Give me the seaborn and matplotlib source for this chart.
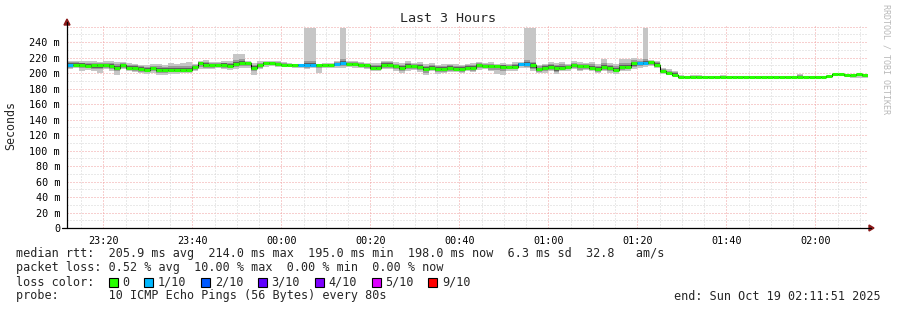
import numpy as np
import pandas as pd
import matplotlib
matplotlib.use("Agg")
import matplotlib.pyplot as plt
import seaborn as sns
from matplotlib.patches import Rectangle, Polygon
from matplotlib.lines import Line2D

# ---------------- data (ms) ----------------
STEP_MIN = 80 / 60.0  # probe every 80 s
median_ms = [
    211, 211, 211, 209.5, 210, 210, 210, 209, 207, 210,
    207, 207, 205.5, 204, 206, 204, 204, 204.5, 204.5, 204.5,
    204.5, 208, 213, 210, 211, 211, 211, 209.5, 212, 213,
    213, 207, 210, 213, 213, 212, 211, 211, 211, 211,
    211, 211, 211, 211, 211, 212, 213, 212, 212, 211,
    211, 207, 207, 211, 211, 209, 207, 209, 209, 208,
    205, 207, 205.5, 205.5, 207, 205.5, 205.5, 207, 207, 210,
    209, 209, 209, 208, 208, 208, 212, 212, 210, 205,
    207, 208, 206, 207, 208, 210, 209, 209, 207, 205,
    208, 207, 204, 208, 208, 212.5, 213, 213, 214, 211,
    202.5, 200, 198, 195, 195, 195, 195, 195, 195, 195,
    195, 195, 195, 195, 195, 195, 195, 195, 195, 195,
    195, 195, 195, 195, 195, 195, 195, 195,
    196, 198.7, 198.7, 197.4, 197.4, 198.5, 198,
]
smoke_hi = [
    216, 216, 215, 216, 215, 214, 215, 216, 214, 214,
    213, 212, 211, 211, 212, 212, 211, 213, 212, 213,
    214, 212, 216, 217, 214, 214, 215, 215, 225, 224,
    215, 213, 215, 216, 215, 216, 214, 213, 212, 212,
    258, 258, 212, 213, 213, 215, 258, 216, 216, 214,
    213, 213, 213, 216, 216, 214, 213, 215, 213, 214,
    212, 213, 211, 212, 212, 212, 211, 212, 213, 214,
    213, 214, 212, 213, 212, 214, 214, 258, 258, 211,
    212, 214, 213, 214, 212, 215, 214, 213, 214, 212,
    218, 213, 212, 218, 218, 219, 218, 258, 217, 216,
    207, 205, 203, 197, 196, 198, 198, 196, 196, 196,
    197, 196, 196, 196, 196, 196, 196, 196, 196, 196,
    196, 196, 196, 198.5, 196, 196, 196, 196,
    197, 199, 199, 198, 198, 199, 199,
]
smoke_lo = [
    205, 206, 203, 204, 202, 200, 205, 203, 198, 205,
    202, 201, 200, 199, 200, 198, 198, 199, 199, 200,
    200, 202, 205, 205, 205, 206, 205, 204, 205, 207,
    206, 198, 205, 208, 209, 208, 208, 208, 207, 207,
    205, 206, 200, 206, 206, 207, 206, 208, 207, 206,
    205, 202, 202, 205, 205, 203, 200, 203, 204, 201,
    198, 202, 199, 200, 201, 201, 200, 202, 201, 204,
    205, 202, 199, 198, 203, 203, 207, 206, 202, 200,
    200, 202, 199, 202, 203, 205, 202, 204, 202, 200,
    202, 200, 199, 202, 203, 205, 207, 208, 209, 206,
    199, 197, 196, 195, 195, 195, 195, 195, 195, 195,
    195, 195, 195, 195, 195, 195, 195, 195, 195, 195,
    195, 195, 195, 195, 195, 195, 195, 195,
    194, 196, 196, 195, 194, 194, 194,
]
# steps with 1 of 10 pings lost
loss_steps = [0, 39, 40, 41, 45, 46, 76, 77, 96, 97]

x_tick_labels = ["23:20", "23:40", "00:00", "00:20", "00:40",
                 "01:00", "01:20", "01:40", "02:00"]
first_tick_min = 8.15  # 23:20:00 minus start 23:11:51
y_tick_values = [0, 20, 40, 60, 80, 100, 120, 140, 160, 180, 200, 220, 240]
y_tick_labels = ["0"] + [f"{v} m" for v in y_tick_values[1:]]

loss_colors = {0: "#26ff00", 1: "#00b8ff", 2: "#0059ff", 3: "#5e00ff",
               4: "#7e00ff", 5: "#dd00ff", 9: "#ff0000"}
legend_labels = ["0", "1/10", "2/10", "3/10", "4/10", "5/10", "9/10"]

# ---------------- frame ----------------
n = len(median_ms)
t0 = np.arange(n) * STEP_MIN
t1 = t0 + STEP_MIN
med = np.array(median_ms, float)
hi = np.array(smoke_hi, float)
lo = np.array(smoke_lo, float)
loss = np.zeros(n, int)
loss[loss_steps] = 1
df = pd.DataFrame({"t": t0, "median": med, "hi": hi, "lo": lo, "loss": loss})

sns.set_theme(style="white")
plt.rcParams["font.family"] = ["DejaVu Sans Mono", "DejaVu Sans"]

W, H = 897, 310
fig = plt.figure(figsize=(W / 100, H / 100), dpi=100)
fig.patch.set_facecolor("white")
L, R, T, B = 67, 868, 25, 228
ax = fig.add_axes([L / W, 1 - B / H, (R - L) / W, (B - T) / H])
ax.set_facecolor("white")
for s in ax.spines.values():
    s.set_visible(False)
ax.set_xlim(0, 180)
ax.set_ylim(0, 262)

# grid
px_lw = 0.72
for v in np.arange(10, 262, 10):
    major = (v % 20 == 0)
    ax.axhline(v, color="#f0a0a0" if major else "#d4d4d4", lw=px_lw,
               linestyle=(0, (1, 2)), zorder=0)
for m in np.arange(first_tick_min - 5, 180, 5):
    if m <= 0:
        continue
    major = abs(((m - first_tick_min) / 20) - round((m - first_tick_min) / 20)) < 1e-6
    ax.axvline(m, color="#f0a0a0" if major else "#d4d4d4", lw=px_lw,
               linestyle=(0, (1, 2)), zorder=0)

# smoke
edges = np.append(t0, t1[-1])
def ext(a):
    return np.append(a, a[-1])
in_hi = med + np.minimum((hi - med) * 0.6, 4.5)
in_lo = med - np.minimum((med - lo) * 0.65, 5)
dk_hi = med + np.minimum((hi - med) * 0.35, 2.5)
dk_lo = med - np.minimum((med - lo) * 0.4, 3)
ax.fill_between(edges, ext(lo), ext(hi), step="post", color="#c6c6c6", lw=0, zorder=1)
ax.fill_between(edges, ext(in_lo), ext(in_hi), step="post", color="#9a9a9a", lw=0, zorder=2)
ax.fill_between(edges, ext(dk_lo), ext(dk_hi), step="post", color="#5e5e5e", lw=0, zorder=3)

# median: thin black step line + thick coloured segments
line_df = pd.DataFrame({"t": edges, "median": ext(med)})
sns.lineplot(data=line_df, x="t", y="median", drawstyle="steps-post",
             color="black", lw=0.75, ax=ax, estimator=None, zorder=4)
for _, r in df.iterrows():
    ax.hlines(r["median"], r["t"], r["t"] + STEP_MIN,
              color=loss_colors[int(r["loss"])], lw=2.2, zorder=5,
              capstyle="butt")

ax.set_xlabel("")
ax.set_ylabel("")
ax.set_xticks([first_tick_min + 20 * k for k in range(len(x_tick_labels))])
ax.set_xticklabels(x_tick_labels)
ax.set_yticks(y_tick_values)
ax.set_yticklabels(y_tick_labels)
ax.tick_params(axis="both", length=0, labelsize=7.3, colors="black")
ax.tick_params(axis="x", pad=6)
ax.tick_params(axis="y", pad=5)

# axis lines and arrows (figure pixel coords)
def P(x, y):
    return (x / W, 1 - y / H)
tf = fig.transFigure
fig.add_artist(Line2D([L / W, L / W], [1 - B / H, 1 - 22 / H], transform=tf,
                      color="black", lw=0.9))
fig.add_artist(Line2D([62 / W, 871 / W], [1 - B / H, 1 - B / H], transform=tf,
                      color="black", lw=0.9))
fig.add_artist(Polygon([P(64, 25), P(70, 25), P(67, 19)], closed=True,
                       transform=tf, color="#8b1a1a"))
fig.add_artist(Polygon([P(869, 225), P(869, 231), P(874, 228)], closed=True,
                       transform=tf, color="#8b1a1a"))

# texts
mono = ["DejaVu Sans Mono", "DejaVu Sans"]
fig.text(448 / W, 1 - 19 / H, "Last 3 Hours", ha="center", va="center",
         fontsize=9.6, family=mono)
fig.text(11 / W, 1 - 126 / H, "Seconds", ha="center", va="center",
         rotation=90, fontsize=8.4, family=mono)
fig.text(886 / W, 1 - 4 / H, "RRDTOOL / TOBI OETIKER", ha="center", va="top",
         rotation=270, fontsize=6.0, color="#b8b8b8", family=mono)

fs = 8.5
cw = 7.1
x0 = 16
lines = [
    "median rtt:  205.9 ms avg  214.0 ms max  195.0 ms min  198.0 ms now  6.3 ms sd  32.8   am/s",
    "packet loss: 0.52 % avg  10.00 % max  0.00 % min  0.00 % now",
]
for i, s in enumerate(lines):
    fig.text(x0 / W, 1 - (254 + 14 * i) / H, s, ha="left", va="center",
             fontsize=fs, family=mono)
# loss colour legend
fig.text(x0 / W, 1 - 282 / H, "loss color:", ha="left", va="center",
         fontsize=fs, family=mono)
pos = 13
for key, lab in zip(loss_colors.keys(), legend_labels):
    sx = x0 + pos * cw + 0.5
    fig.add_artist(Rectangle(P(sx, 286.5), 9 / W, 9 / H, transform=tf,
                             facecolor=loss_colors[key], edgecolor="black", lw=0.8))
    fig.text((x0 + (pos + 2) * cw) / W, 1 - 282 / H, lab, ha="left",
             va="center", fontsize=fs, family=mono)
    pos += 2 + len(lab) + 2
fig.text(x0 / W, 1 - 296 / H, "probe:       10 ICMP Echo Pings (56 Bytes) every 80s",
         ha="left", va="center", fontsize=fs, family=mono)
fig.text(881 / W, 1 - 296 / H, "end: Sun Oct 19 02:11:51 2025", ha="right",
         va="center", fontsize=fs, family=mono)

fig.savefig("out.png", dpi=100, facecolor="white")
